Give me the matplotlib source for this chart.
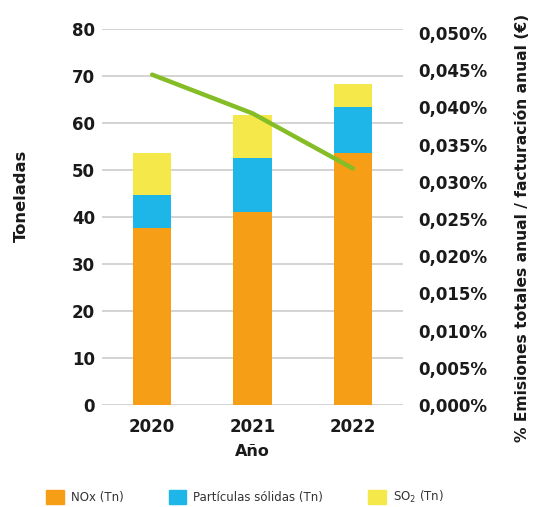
import matplotlib
matplotlib.use("Agg")
import matplotlib.pyplot as plt
from matplotlib.patches import Patch
from matplotlib.ticker import FuncFormatter

years = ["2020", "2021", "2022"]
nox = [37.7, 41.1, 53.6]
particulas = [7.0, 11.5, 9.8]
so2 = [8.9, 9.1, 4.9]
ratio_pct = [0.0444, 0.0392, 0.0318]

left_ticks = [0, 10, 20, 30, 40, 50, 60, 70, 80]
right_ticks = [0.000, 0.005, 0.010, 0.015, 0.020, 0.025, 0.030, 0.035, 0.040, 0.045, 0.050]

c_nox = "#F59E16"
c_part = "#1EB6E8"
c_so2 = "#F5E84A"
c_line = "#84BD25"
txt = "#1a1a1a"

plt.rcParams["font.family"] = ["DejaVu Sans"]

fig = plt.figure(figsize=(5.34, 5.07), dpi=100)
ax = fig.add_axes([102/534, 1-405/507, 301/534, 376/507])
x = list(range(len(years)))
w = 0.38
bottom2 = [a + b for a, b in zip(nox, particulas)]
ax.bar(x, nox, w, color=c_nox, zorder=2)
ax.bar(x, particulas, w, bottom=nox, color=c_part, zorder=2)
ax.bar(x, so2, w, bottom=bottom2, color=c_so2, zorder=2)

ax.set_xlim(-0.5, 2.5)
ax.set_ylim(0, 80)
ax.set_yticks(left_ticks)
ax.set_xticks(x)
ax.set_xticklabels(years)
ax.grid(axis="y", color="#D3D3D3", linewidth=1.4, zorder=0)
ax.set_axisbelow(True)
for s in ax.spines.values():
    s.set_visible(False)
ax.tick_params(axis="both", length=0, labelsize=12, labelcolor=txt)
ax.tick_params(axis="y", pad=5)
ax.tick_params(axis="x", pad=9)
for lab in ax.get_xticklabels() + ax.get_yticklabels():
    lab.set_fontweight("bold")
ax.set_xlabel("Año", fontsize=11.5, fontweight="bold", color=txt, labelpad=6)
ax.set_ylabel("Toneladas", fontsize=11.8, fontweight="bold", color=txt)
ax.yaxis.set_label_coords(-0.243, 0.556)

ax2 = ax.twinx()
ax2.plot(x, ratio_pct, color=c_line, linewidth=3.2, solid_capstyle="round", zorder=3)
ax2.set_ylim(0, 0.05054)
ax2.set_yticks(right_ticks)
ax2.yaxis.set_major_formatter(FuncFormatter(lambda v, p: f"{v:.3f}%".replace(".", ",")))
for s in ax2.spines.values():
    s.set_visible(False)
ax2.tick_params(axis="y", length=0, labelsize=12, labelcolor=txt, pad=11)
for lab in ax2.get_yticklabels():
    lab.set_fontweight("bold")
ax2.set_ylabel("% Emisiones totales anual / facturación anual (€)", fontsize=11.2,
               fontweight="bold", color=txt)
ax2.yaxis.set_label_coords(1.372, 0.471)

handles = [Patch(color=c_nox), Patch(color=c_part), Patch(color=c_so2)]
labels = ["NOx (Tn)", "Partículas sólidas (Tn)", "SO$_2$ (Tn)"]
fig.legend(handles, labels, loc="center", bbox_to_anchor=(0.5 - 22/534, 1-497/507), ncol=3,
           frameon=False, fontsize=8.5, handlelength=1.5, handleheight=1.5,
           columnspacing=3.8, handletextpad=0.6, labelcolor="#333333")

fig.savefig("out.png", dpi=100)
